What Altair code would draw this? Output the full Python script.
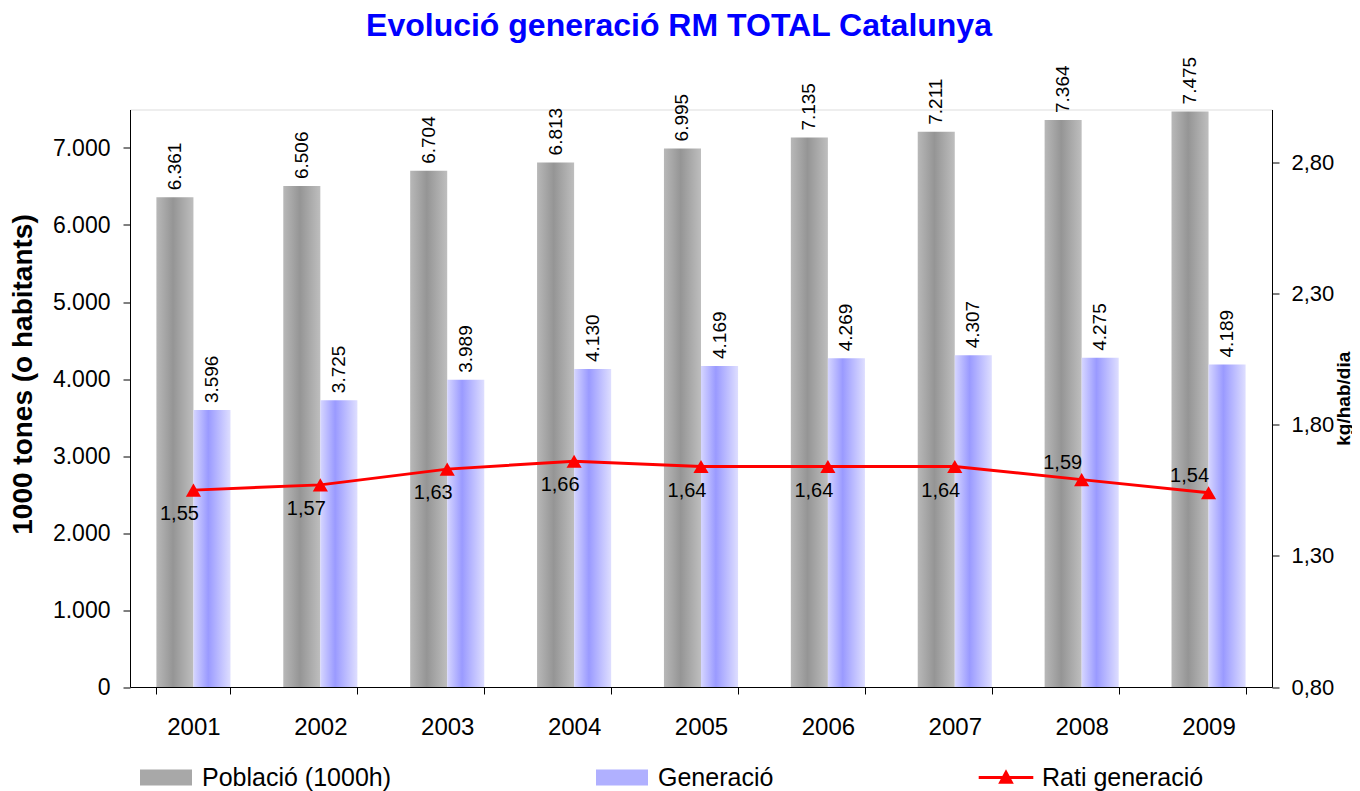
import altair as alt
import pandas as pd

# ---- data ----
years = ["2001", "2002", "2003", "2004", "2005", "2006", "2007", "2008", "2009"]
poblacio = [6361, 6506, 6704, 6813, 6995, 7135, 7211, 7364, 7475]
generacio = [3596, 3725, 3989, 4130, 4169, 4269, 4307, 4275, 4189]
rati = [1.55, 1.57, 1.63, 1.66, 1.64, 1.64, 1.64, 1.59, 1.54]
series_names = ["Població (1000h)", "Generació", "Rati generació"]
left_ticks = [0, 1000, 2000, 3000, 4000, 5000, 6000, 7000]
right_ticks = [0.8, 1.3, 1.8, 2.3, 2.8]
labels_above = ["2008", "2009"]

bars_df = pd.DataFrame({
    "year": years * 2,
    "series": [series_names[0]] * len(years) + [series_names[1]] * len(years),
    "value": poblacio + generacio,
})
line_df = pd.DataFrame({"year": years, "rati": rati})
legend_df = pd.DataFrame({"series": series_names})

FONT = "Liberation Sans"

gray_grad = alt.Gradient(
    gradient="linear", x1=0, x2=1, y1=0, y2=0,
    stops=[alt.GradientStop(offset=0, color="#b8b8b8"),
           alt.GradientStop(offset=0.45, color="#959595"),
           alt.GradientStop(offset=1, color="#bebebe")])
blue_grad = alt.Gradient(
    gradient="linear", x1=0, x2=1, y1=0, y2=0,
    stops=[alt.GradientStop(offset=0, color="#d6d6ff"),
           alt.GradientStop(offset=0.4, color="#9a9aff"),
           alt.GradientStop(offset=1, color="#dedeff")])

X = alt.X("year:N", sort=years,
          scale=alt.Scale(paddingInner=0.416, paddingOuter=0.208),
          axis=alt.Axis(title=None, labelAngle=0, tickBand="extent",
                        labelFont=FONT, labelFontSize=24, labelColor="black",
                        labelPadding=21, tickSize=7, tickColor="black",
                        domainColor="black", grid=False))
XOFF = alt.XOffset("series:N", sort=series_names[:2],
                   scale=alt.Scale(domain=series_names[:2], paddingInner=0, paddingOuter=0))
YL = alt.Y("value:Q",
           scale=alt.Scale(domain=[0, 7500], nice=False, zero=True),
           axis=alt.Axis(values=left_ticks, format=",d", title="1000 tones (o habitants)",
                         titleFont=FONT, titleFontSize=28, titleFontWeight="bold",
                         titleColor="black", titleX=-93, titleY=264.5,
                         labelFont=FONT, labelFontSize=23, labelColor="black",
                         labelPadding=13, tickSize=7, tickColor="black",
                         domainColor="black", grid=False))
YR = alt.Y("rati:Q",
           scale=alt.Scale(domain=[0.8, 3.0], nice=False, zero=False),
           axis=alt.Axis(orient="right", values=right_ticks, format=".2f",
                         title="kg/hab/dia", titleFont=FONT, titleFontSize=19,
                         titleFontWeight="bold", titleColor="black",
                         titleAngle=270, titleBaseline="top", titleX=62, titleY=288.75,
                         labelFont=FONT, labelFontSize=22, labelColor="black",
                         labelPadding=12, tickSize=7, tickColor="black",
                         domainColor="black", grid=False))

base_bars = alt.Chart(bars_df)
bar_p = base_bars.transform_filter(alt.datum.series == series_names[0]).mark_bar(
    fill=gray_grad, strokeWidth=0).encode(x=X, xOffset=XOFF, y=YL)
bar_g = base_bars.transform_filter(alt.datum.series == series_names[1]).mark_bar(
    fill=blue_grad, strokeWidth=0).encode(x=X, xOffset=XOFF, y=YL)
bar_txt = base_bars.mark_text(angle=270, align="left", baseline="middle", dx=7,
                              font=FONT, fontSize=19, color="black").encode(
    x=X, xOffset=XOFF, y=YL, text=alt.Text("value:Q", format=",d"))

left = alt.layer(bar_p, bar_g, bar_txt)

base_line = alt.Chart(line_df)
line = base_line.mark_line(color="#ff0000", strokeWidth=3).encode(x=X, y=YR)
pts = base_line.mark_point(shape="triangle-up", filled=True, size=230, opacity=1,
                           color="#ff0000").encode(x=X, y=YR)
txt_below = base_line.transform_filter(
    ~alt.FieldOneOfPredicate(field="year", oneOf=labels_above)).mark_text(
    dx=-14, dy=24, font=FONT, fontSize=20, color="black").encode(
    x=X, y=YR, text=alt.Text("rati:Q", format=".2f"))
txt_above = base_line.transform_filter(
    alt.FieldOneOfPredicate(field="year", oneOf=labels_above)).mark_text(
    dx=-19, dy=-17, font=FONT, fontSize=20, color="black").encode(
    x=X, y=YR, text=alt.Text("rati:Q", format=".2f"))

rect_path = "M-1,-0.31H1V0.31H-1Z"
line_path = "M-1.05,-0.06H1.05V0.06H-1.05Z M0,-0.32L0.3,0.24H-0.3Z"
leg = alt.Legend(title=None, orient="none", legendX=10, legendY=642,
                 direction="horizontal", symbolSize=2704, symbolStrokeWidth=0,
                 labelFont=FONT, labelFontSize=25, labelColor="black",
                 labelOffset=10, columnPadding=204, padding=0, labelLimit=500)
legend_layer = alt.Chart(legend_df).transform_filter("false").mark_point(
    filled=True, opacity=1).encode(
    color=alt.Color("series:N", sort=series_names,
                    scale=alt.Scale(domain=series_names,
                                    range=["#a8a8a8", "#b0b0ff", "#ff0000"]),
                    legend=leg),
    shape=alt.Shape("series:N", sort=series_names,
                    scale=alt.Scale(domain=series_names,
                                    range=[rect_path, rect_path, line_path]),
                    legend=leg))

right = alt.layer(line, pts, txt_below, txt_above, legend_layer)

chart = alt.layer(left, right).resolve_scale(y="independent").properties(
    width=1142, height=577.5,
    padding={"left": 122, "top": 101.5, "right": 80, "bottom": 104},
    autosize=alt.AutoSizeParams(type="none"),
    title=alt.Title("Evolució generació RM TOTAL Catalunya", font=FONT, fontSize=32,
                    fontWeight="bold", color="#0000ff", anchor="middle",
                    frame="group", offset=-11, baseline="alphabetic", dx=-22),
).configure_view(strokeWidth=0).configure(
    locale=alt.Locale(number=alt.NumberLocale(decimal=",", thousands=".",
                                              grouping=[3], currency=["", " €"])))

chart.save("out.html", embed_options={"renderer": "svg", "actions": False})
